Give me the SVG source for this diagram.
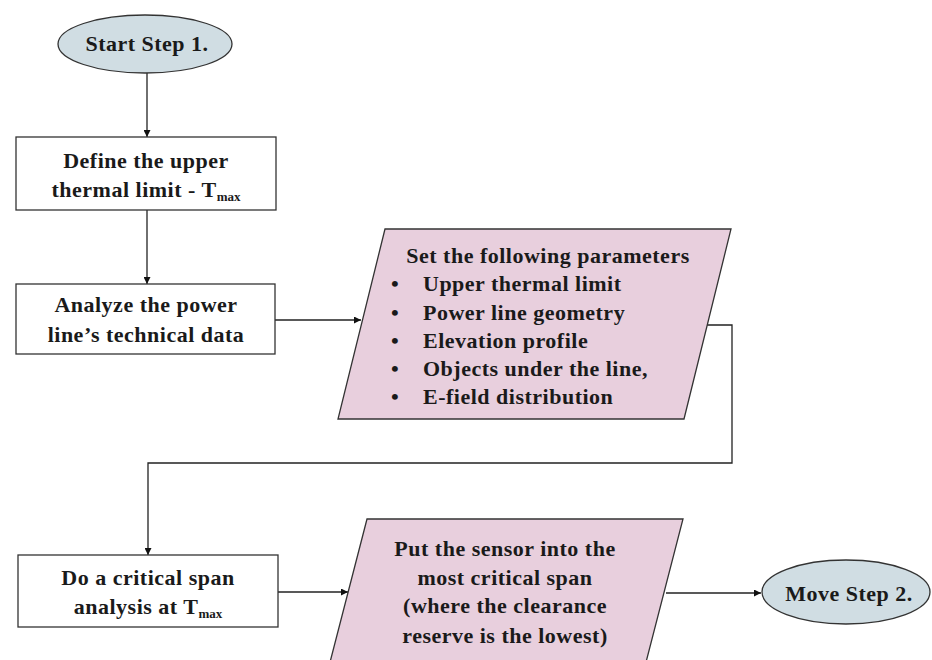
<svg xmlns="http://www.w3.org/2000/svg" width="932" height="660" viewBox="0 0 932 660">
<defs>
<marker id="ah" viewBox="0 0 10 10" refX="10" refY="5" markerWidth="7" markerHeight="7" markerUnits="userSpaceOnUse" orient="auto">
<path d="M0,0 L10,5 L0,10 z" fill="#111"/>
</marker>
<style>
.t{font-family:"Liberation Serif","Times New Roman",serif;font-weight:bold;font-size:22px;letter-spacing:0.5px;fill:#1a1a1a;text-anchor:middle}
.l{font-family:"Liberation Serif","Times New Roman",serif;font-weight:bold;font-size:22px;letter-spacing:0.5px;fill:#1a1a1a}
.sub{font-size:13px;letter-spacing:0}
.box{fill:#fff;stroke:#333;stroke-width:1.3}
.term{fill:#d0dde3;stroke:#333;stroke-width:1.3}
.io{fill:#e8cfdd;stroke:#333;stroke-width:1.3}
.c{fill:none;stroke:#222;stroke-width:1.3}
</style>
</defs>
<rect width="932" height="660" fill="#fff"/>
<g id="connectors">
<path class="c" d="M147,73 V137" marker-end="url(#ah)"/>
<path class="c" d="M147,210 V284" marker-end="url(#ah)"/>
<path class="c" d="M275,320 H361" marker-end="url(#ah)"/>
<path class="c" d="M707,325 H732 V463 H148 V555" marker-end="url(#ah)"/>
<path class="c" d="M278,592 H348" marker-end="url(#ah)"/>
<path class="c" d="M666,593 H761" marker-end="url(#ah)"/>
</g>
<g id="start">
<ellipse class="term" cx="145" cy="44" rx="87" ry="29"/>
<text class="t" x="147" y="51">Start Step 1.</text>
</g>
<g id="define">
<rect class="box" x="16" y="137" width="260" height="73"/>
<text class="t" x="146" y="168">Define the upper</text>
<text class="t" x="146" y="197">thermal limit - T<tspan class="sub" dy="4">max</tspan></text>
</g>
<g id="analyze">
<rect class="box" x="16" y="284" width="259" height="70"/>
<text class="t" x="146" y="312">Analyze the power</text>
<text class="t" x="146" y="342">line’s technical data</text>
</g>
<g id="params">
<polygon class="io" points="385,229 731,229 684,419 338,419"/>
<text class="t" x="548" y="263">Set the following parameters</text>
<text class="l" x="391" y="291">•</text><text class="l" x="423" y="291">Upper thermal limit</text>
<text class="l" x="391" y="320">•</text><text class="l" x="423" y="320">Power line geometry</text>
<text class="l" x="391" y="348">•</text><text class="l" x="423" y="348">Elevation profile</text>
<text class="l" x="391" y="376">•</text><text class="l" x="423" y="376">Objects under the line,</text>
<text class="l" x="391" y="404">•</text><text class="l" x="423" y="404">E-field distribution</text>
</g>
<g id="critical">
<rect class="box" x="18" y="555" width="260" height="72"/>
<text class="t" x="148" y="585">Do a critical span</text>
<text class="t" x="148" y="614">analysis at T<tspan class="sub" dy="4">max</tspan></text>
</g>
<g id="sensor">
<polygon class="io" points="367,519 683,519 644,670 328,670"/>
<text class="t" x="505" y="556">Put the sensor into the</text>
<text class="t" x="505" y="585">most critical span</text>
<text class="t" x="505" y="613">(where the clearance</text>
<text class="t" x="505" y="643">reserve is the lowest)</text>
</g>
<g id="move">
<ellipse class="term" cx="846" cy="592" rx="84" ry="32"/>
<text class="t" x="849" y="601">Move Step 2.</text>
</g>
</svg>
